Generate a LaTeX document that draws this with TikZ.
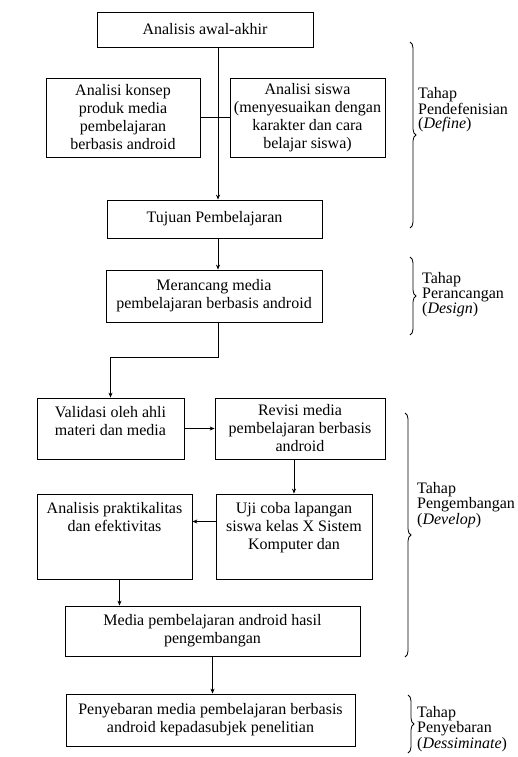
\documentclass[tikz,border=0pt]{standalone}
\usepackage{fontspec}
\setmainfont{Liberation Serif}
\usetikzlibrary{arrows.meta, decorations.pathreplacing}

\begin{document}
\begin{tikzpicture}[x=1pt, y=-1pt, font=\fontsize{16}{18}\selectfont,
  >={Stealth[length=5pt, width=4pt]},
  box/.style={draw, line width=0.8pt, align=center, inner sep=2pt},
  arr/.style={->, line width=0.8pt},
  brc/.style={decorate, decoration={brace, amplitude=6pt}, line width=0.8pt},
  stage/.style={anchor=west, align=left, inner sep=0pt, font=\fontsize{16}{14.5}\selectfont}]
  \useasboundingbox (0,0) rectangle (517,757);
  \coordinate (spine) at (218,0);

  \node[box, minimum width=216pt, minimum height=35pt] (awal) at (205,29.5) {Analisis awal-akhir};
  \node[box, minimum width=154pt, minimum height=79pt] (konsep) at (123,117.5) {Analisi konsep\\produk media\\pembelajaran\\berbasis android};
  \node[box, minimum width=155pt, minimum height=79pt] (siswa) at (307.5,117.5) {Analisi siswa\\(menyesuaikan dengan\\karakter dan cara\\belajar siswa)};
  \node[box, minimum width=215pt, minimum height=38pt] (tujuan) at (214.5,219) {Tujuan Pembelajaran};
  \node[box, minimum width=216pt, minimum height=52pt] (rancang) at (214,296) {Merancang media\\pembelajaran berbasis android};
  \node[box, text height=35pt, text depth=22pt, minimum width=147pt] (validasi) at (110.5,428.5) {Validasi oleh ahli\\materi dan media};
  \node[box, minimum width=170pt, minimum height=61pt] (revisi) at (300,428.5) {Revisi media\\pembelajaran berbasis\\android};
  \node[box, text height=53pt, text depth=28pt, minimum width=156pt] (uji) at (294,536.5) {Uji coba lapangan\\siswa kelas X Sistem\\Komputer dan};
  \node[box, text height=35pt, text depth=46pt, minimum width=155pt] (praktis) at (114.5,536.5) {Analisis praktikalitas\\dan efektivitas};
  \node[box, minimum width=295pt, minimum height=50pt] (hasil) at (212.5,631) {Media pembelajaran android hasil\\pengembangan};
  \node[box, minimum width=289pt, minimum height=52pt] (sebar) at (210.5,720) {Penyebaran media pembelajaran berbasis\\android kepadasubjek penelitian};

  \draw[arr] (awal.south -| spine) -- (tujuan.north -| spine);
  \draw[line width=0.8pt] (konsep.east) -- (siswa.west);
  \draw[arr] (tujuan.south -| spine) -- (rancang.north -| spine);
  \draw[arr] (rancang.south -| spine) -- ++(0,35) -| (validasi.north);
  \draw[arr] (validasi.east) -- (revisi.west);
  \draw[arr] (revisi.south -| uji.north) -- (uji.north);
  \draw[arr] ([yshift=15pt]uji.west) -- ([yshift=15pt]uji.west -| praktis.east);
  \draw[arr] ([xshift=5pt]praktis.south) -- ([xshift=5pt]praktis.south |- hasil.north);
  \draw[arr] (hasil.south) -- (hasil.south |- sebar.north);

  % tahapan
  \draw[brc] (410,42) -- (410,228);
  \draw[brc] (410,257) -- (410,335);
  \draw[brc] (405,413) -- (405,657);
  \draw[brc] (408,695) -- (408,753);
  \node[stage] (define) at (418,110) {Tahap\\Pendefenisian\\(\textit{Define})};
  \node[stage] (design) at (422,295) {Tahap\\Perancangan\\(\textit{Design})};
  \node[stage] (develop) at (417,505) {Tahap\\Pengembangan\\(\textit{Develop})};
  \node[stage] (dissem) at (417,729) {Tahap\\Penyebaran\\(\textit{Dessiminate})};
\end{tikzpicture}
\end{document}
